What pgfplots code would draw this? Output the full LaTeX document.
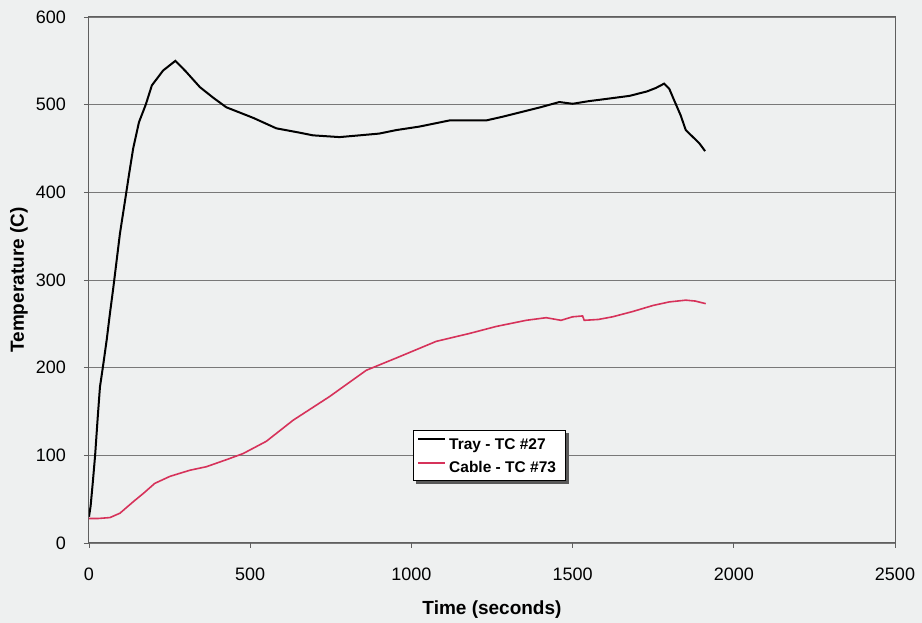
\documentclass[border=0pt]{standalone}
\usepackage{fontspec}
\setmainfont{Liberation Sans}
\usepackage{pgfplots}
\pgfplotsset{compat=1.18}
\usetikzlibrary{shadows}

\definecolor{bgpaper}{RGB}{238,240,240}
\definecolor{axisgray}{RGB}{95,95,95}
\definecolor{gridgray}{RGB}{120,120,120}
\definecolor{cablered}{RGB}{214,50,90}

\begin{document}
\begin{tikzpicture}
% page background and fixed picture size
\fill[bgpaper] (-89pt,-80pt) rectangle (833pt,543pt);
\path[use as bounding box] (-89pt,-80pt) rectangle (833pt,543pt);
\begin{axis}[
  at={(0,0)}, anchor=south west,
  scale only axis, width=806pt, height=526pt,
  xmin=0, xmax=2500, ymin=0, ymax=600,
  xtick={0,500,...,2500}, ytick={0,100,...,600},
  /pgf/number format/1000 sep={},
  /pgf/number format/assume math mode=true,
  tick label style={font=\fontsize{18}{20}\selectfont, inner sep=0pt},
  xticklabel style={anchor=base, yshift=-33pt},
  yticklabel style={anchor=east, xshift=-18pt},
  tick align=outside, major tick length=5pt,
  tick style={axisgray, line width=0.8pt},
  axis line style={axisgray, line width=1pt},
  ymajorgrids, grid style={gridgray, line width=0.8pt},
  xtick pos=bottom, ytick pos=left,
  xlabel={\bfseries Time (seconds)},
  ylabel={\bfseries Temperature (C)},
  label style={font=\fontsize{19}{22}\selectfont},
  xlabel style={at={([yshift=-72pt]axis description cs:0.5,0)}, anchor=base},
  ylabel style={at={([xshift=-65pt]axis description cs:0,0.5)}, anchor=base},
  legend style={at={(rel axis cs:0.402,0.2148)}, anchor=north west,
    draw=none, fill=none,
    font=\fontsize{15.5}{18}\selectfont\bfseries,
    inner xsep=4pt, inner ysep=7pt, row sep=9pt,
    nodes={inner xsep=3pt, inner ysep=1pt}},
  legend cell align=left,
  legend image code/.code={\draw[#1] (0pt,5pt) -- (27pt,5pt);},
]
% framed legend box with its shadow
\draw[black, line width=1pt, fill=white,
      drop shadow={shadow xshift=3pt, shadow yshift=-3pt, fill=black!65, opacity=1}]
  (rel axis cs:0.402,0.2148) rectangle (rel axis cs:0.5918,0.1179);
\addplot[black, line width=2pt] coordinates {
(0,30) (5,42) (12,70) (19,100) (27,143) (34,178) (44,203) (55,232)
(65,262) (75,290) (85,320) (96,353) (112,391) (124,420) (137,450)
(155,480) (176,500) (195,522) (230,539) (268,550) (300,538) (344,520)
(385,508) (426,497) (509,485) (581,473) (654,468) (695,465) (777,463)
(839,465) (900,467) (953,471) (1025,475) (1118,482) (1232,482)
(1280,486) (1335,491) (1400,497) (1459,503) (1500,501) (1550,504)
(1593,506) (1676,510) (1730,515) (1758,519) (1784,524) (1800,518)
(1815,505) (1835,488) (1851,471) (1893,456) (1911,447)
};
\addlegendentry{Tray - TC \#27}
\addplot[cablered, line width=1.6pt] coordinates {
(0,28) (30,28) (65,29) (96,34) (137,47) (170,57) (204,68) (251,76)
(313,83) (364,87) (426,95) (478,102) (550,116) (633,140) (746,167)
(860,197) (953,211) (1077,230) (1180,239) (1263,247) (1356,254)
(1418,257) (1464,254) (1500,258) (1531,259) (1536,254) (1580,255)
(1624,258) (1686,264) (1750,271) (1800,275) (1851,277) (1880,276)
(1913,273)
};
\addlegendentry{Cable - TC \#73}
\end{axis}
\end{tikzpicture}
\end{document}
